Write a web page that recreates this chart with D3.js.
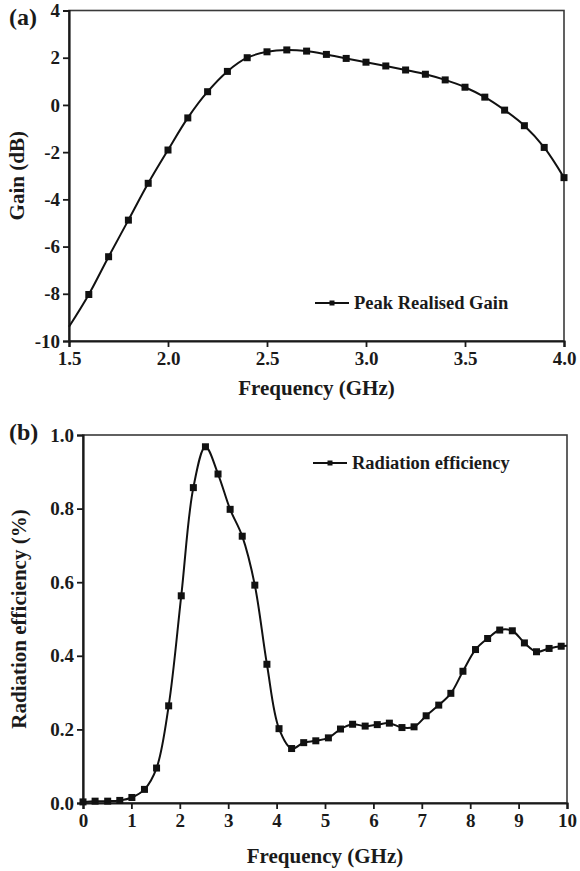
<!DOCTYPE html>
<html>
<head>
<meta charset="utf-8">
<script src="https://cdn.jsdelivr.net/npm/d3@7"></script>
<style>
  html, body { margin: 0; padding: 0; background: #fff; }
  svg { display: block; }
  text { font-family: "Liberation Serif", "Times New Roman", serif; font-weight: bold; fill: #1a1a1a; }
</style>
</head>
<body>
<svg id="fig" width="580" height="871"></svg>
<script>
// Panel (a): peak realised gain vs frequency
const gainFreq = [1.5, 1.6, 1.7, 1.8, 1.9, 2.0, 2.1, 2.2, 2.3, 2.4, 2.5, 2.6, 2.7, 2.8, 2.9, 3.0,
                  3.1, 3.2, 3.3, 3.4, 3.5, 3.6, 3.7, 3.8, 3.9, 4.0];
const gainDb   = [-9.4, -8.03, -6.43, -4.88, -3.32, -1.91, -0.55, 0.56, 1.42, 2.0, 2.25, 2.33, 2.28,
                  2.14, 1.97, 1.81, 1.65, 1.48, 1.3, 1.06, 0.75, 0.33, -0.22, -0.88, -1.8, -3.08];
const gainXTicks = [1.5, 2.0, 2.5, 3.0, 3.5, 4.0];
const gainYTicks = [-10, -8, -6, -4, -2, 0, 2, 4];

// Panel (b): radiation efficiency vs frequency (last point closes the trace at 10 GHz)
const effFreq = [0, 0.25, 0.51, 0.76, 1.01, 1.27, 1.52, 1.77, 2.03, 2.28, 2.53, 2.79, 3.04, 3.29,
                 3.55, 3.8, 4.05, 4.31, 4.56, 4.81, 5.07, 5.32, 5.57, 5.83, 6.08, 6.33, 6.59, 6.84,
                 7.09, 7.35, 7.6, 7.85, 8.11, 8.36, 8.61, 8.87, 9.12, 9.37, 9.63, 9.88, 10];
const effVal  = [0.003, 0.005, 0.005, 0.007, 0.015, 0.037, 0.095, 0.264, 0.563, 0.857, 0.968, 0.894,
                 0.798, 0.725, 0.592, 0.377, 0.202, 0.148, 0.164, 0.169, 0.177, 0.201, 0.214, 0.209,
                 0.213, 0.217, 0.205, 0.207, 0.237, 0.266, 0.298, 0.358, 0.417, 0.447, 0.47, 0.468,
                 0.435, 0.411, 0.42, 0.426, 0.427];
const effXTicks = [0, 1, 2, 3, 4, 5, 6, 7, 8, 9, 10];
const effYTicks = [0, 0.2, 0.4, 0.6, 0.8, 1.0];

const svg = d3.select("#fig");

function panel(cfg) {
  const { left, right, top, bottom } = cfg.box;
  const x = d3.scaleLinear().domain(cfg.xDomain).range([left, right]);
  const y = d3.scaleLinear().domain(cfg.yDomain).range([bottom, top]);
  const g = svg.append("g");

  // frame
  g.append("rect").attr("x", left).attr("y", top)
    .attr("width", right - left).attr("height", bottom - top)
    .attr("fill", "none").attr("stroke", "#3a3a3a").attr("stroke-width", 1.6);

  const xAxis = g.append("g").attr("transform", `translate(0,${bottom})`)
    .call(d3.axisBottom(x).tickValues(cfg.xTicks).tickFormat(cfg.xFmt).tickSize(6).tickPadding(5));
  const yAxis = g.append("g").attr("transform", `translate(${left},0)`)
    .call(d3.axisLeft(y).tickValues(cfg.yTicks).tickFormat(cfg.yFmt).tickSize(6).tickPadding(3));
  [xAxis, yAxis].forEach(a => {
    a.select(".domain").attr("stroke", "#1a1a1a").attr("stroke-width", 2.2);
    a.selectAll(".tick line").attr("stroke", "#1a1a1a").attr("stroke-width", 1.8);
    a.selectAll(".tick text").style("font-size", "19px")
      .style("font-family", "'Liberation Serif', serif").style("font-weight", "bold").attr("fill", "#1a1a1a");
  });

  // curve
  const pts = cfg.xs.map((v, i) => [v, cfg.ys[i]]);
  g.append("path").datum(pts)
    .attr("fill", "none").attr("stroke", "#111").attr("stroke-width", 2)
    .attr("d", d3.line().x(d => x(d[0])).y(d => y(d[1])).curve(d3.curveCatmullRom.alpha(0.5)));

  // square markers
  const ms = 7;
  g.selectAll("rect.m").data(pts.filter((d, i) => cfg.marked(i))).join("rect")
    .attr("class", "m")
    .attr("x", d => x(d[0]) - ms / 2).attr("y", d => y(d[1]) - ms / 2)
    .attr("width", ms).attr("height", ms).attr("fill", "#111");

  // legend
  const L = cfg.legend;
  g.append("line").attr("x1", L.x).attr("x2", L.x + 34).attr("y1", L.y).attr("y2", L.y)
    .attr("stroke", "#111").attr("stroke-width", 2);
  g.append("rect").attr("x", L.x + 17 - 2.5).attr("y", L.y - 2.5).attr("width", 5).attr("height", 5).attr("fill", "#111");
  g.append("text").attr("x", L.x + 39).attr("y", L.y + 6).style("font-size", "18.5px").text(L.text);

  // axis titles
  g.append("text").attr("x", (left + right) / 2).attr("y", cfg.xTitleY)
    .attr("text-anchor", "middle").style("font-size", "21px").text("Frequency (GHz)");
  g.append("text").attr("transform", `translate(${cfg.yTitleX},${(top + bottom) / 2}) rotate(-90)`)
    .attr("text-anchor", "middle").style("font-size", "21px").text(cfg.yTitle);

  // panel tag
  g.append("text").attr("x", cfg.tag.x).attr("y", cfg.tag.y).style("font-size", "24px").text(cfg.tag.text);
}

panel({
  box: { left: 69, right: 564, top: 10.5, bottom: 341 },
  xDomain: [1.5, 4.0], yDomain: [-10, 4],
  xTicks: gainXTicks, yTicks: gainYTicks,
  xFmt: d3.format(".1f"), yFmt: d => d3.format("d")(d).replace("−", "-"),
  xs: gainFreq, ys: gainDb, marked: i => i > 0,
  legend: { x: 315, y: 303, text: "Peak Realised Gain" },
  xTitleY: 395, yTitleX: 24, yTitle: "Gain (dB)",
  tag: { x: 9, y: 25, text: "(a)" }
});

panel({
  box: { left: 83, right: 567, top: 435, bottom: 803 },
  xDomain: [0, 10], yDomain: [0, 1],
  xTicks: effXTicks, yTicks: effYTicks,
  xFmt: d3.format("d"), yFmt: d3.format(".1f"),
  xs: effFreq, ys: effVal, marked: i => i < effFreq.length - 1,
  legend: { x: 313, y: 463, text: "Radiation efficiency" },
  xTitleY: 863, yTitleX: 26, yTitle: "Radiation efficiency (%)",
  tag: { x: 9, y: 440, text: "(b)" }
});
</script>
</body>
</html>
